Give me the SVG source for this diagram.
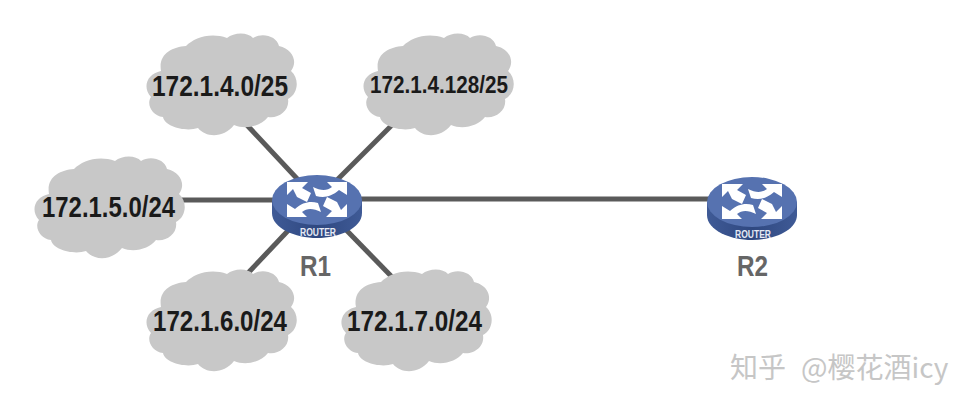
<svg xmlns="http://www.w3.org/2000/svg" width="972" height="410" viewBox="0 0 972 410">
  <style>
    .link { stroke: #5a5a5a; stroke-width: 5; fill: none; }
    .cloud { fill: #c8c8c8; }
    .net { font: bold 30px "Liberation Sans", Arial, sans-serif; fill: #1a1a1a; }
    .name { font: bold 30px "Liberation Sans", Arial, sans-serif; fill: #666; }
    .tag { font: bold 10px "Liberation Sans", Arial, sans-serif; fill: #e6eaf4; }
    .mark { font: 28px "Noto Sans CJK SC", "Liberation Sans", sans-serif; fill: #c6c6c6; }
  </style>
  <defs>
    <linearGradient id="rim" x1="0" x2="1" y1="0" y2="0">
      <stop offset="0" stop-color="#3f5a96"/>
      <stop offset="0.5" stop-color="#2f4880"/>
      <stop offset="1" stop-color="#3f5a96"/>
    </linearGradient>
    <!-- lobed cloud outline, centred on the origin -->
    <path id="puff" d="M-61 -13C-64 -30 -50 -37 -36 -38C-28 -46 -12 -52 5 -46C12 -52 26 -52 31 -46C40 -52 55 -48 57 -38C71 -35 76 -22 69 -13C78 -5 76 10 66 15C68 27 56 35 46 33C39 42 24 46 12 41C2 54 -16 54 -24 44C-36 48 -57 43 -59 33C-70 32 -76 20 -71 13C-80 3 -75 -10 -61 -13Z"/>
    <g id="router">
      <path d="M-45 0V13C-45 28 -22 38 0 38S45 28 45 13V0Z" fill="url(#rim)"/>
      <ellipse cx="0" cy="0" rx="45" ry="25" fill="#5672b0"/>
      <g fill="#fff">
        <path d="M-30 -18H-9L-15 -12L-6 -7L-10 2L-20 -3L-24 -11L-30 -5Z"/>
        <path d="M30 -18H10L15 -13C10 -9 4 -9 -4 -13L-1 -4C7 -2 14 -3 22 -10L30 -5Z"/>
        <path d="M-30 17H-10L-15 12C-10 8 -4 8 4 12L1 3C-7 1 -14 2 -22 9L-30 4Z"/>
        <path d="M30 17H9L15 11L6 6L10 -3L20 2L24 10L30 4Z"/>
      </g>
      <text class="tag" x="-17" y="36" textLength="36" lengthAdjust="spacingAndGlyphs">ROUTER</text>
    </g>
  </defs>

  <g id="connectors">
    <line class="link" x1="245" y1="123" x2="317" y2="200"/>
    <line class="link" x1="392" y1="125" x2="317" y2="200"/>
    <line class="link" x1="170" y1="200" x2="317" y2="200"/>
    <line class="link" x1="248" y1="273" x2="317" y2="200"/>
    <line class="link" x1="393" y1="278" x2="317" y2="200"/>
    <line class="link" x1="317" y1="199" x2="752" y2="199"/>
  </g>

  <g id="net-172-1-4-0"><use href="#puff" class="cloud" transform="translate(222 84)"/><text class="net" x="152" y="96" textLength="136" lengthAdjust="spacingAndGlyphs">172.1.4.0/25</text></g>
  <g id="net-172-1-4-128"><use href="#puff" class="cloud" transform="translate(439 84)"/><text class="net" x="370" y="93" style="font-size:24px" textLength="138" lengthAdjust="spacingAndGlyphs">172.1.4.128/25</text></g>
  <g id="net-172-1-5-0"><use href="#puff" class="cloud" transform="translate(110 207)"/><text class="net" x="42" y="217" textLength="133" lengthAdjust="spacingAndGlyphs">172.1.5.0/24</text></g>
  <g id="net-172-1-6-0"><use href="#puff" class="cloud" transform="translate(222 320)"/><text class="net" x="153" y="331" textLength="134" lengthAdjust="spacingAndGlyphs">172.1.6.0/24</text></g>
  <g id="net-172-1-7-0"><use href="#puff" class="cloud" transform="translate(417 320)"/><text class="net" x="347" y="331" textLength="135" lengthAdjust="spacingAndGlyphs">172.1.7.0/24</text></g>

  <g id="r1"><use href="#router" transform="translate(317 200)"/><text class="name" x="300" y="276" textLength="31" lengthAdjust="spacingAndGlyphs">R1</text></g>
  <g id="r2"><use href="#router" transform="translate(752 202)"/><text class="name" x="737" y="276" textLength="31" lengthAdjust="spacingAndGlyphs">R2</text></g>

  <text class="mark" y="378"><tspan x="730">知乎</tspan><tspan x="801">@樱花酒icy</tspan></text>
</svg>
